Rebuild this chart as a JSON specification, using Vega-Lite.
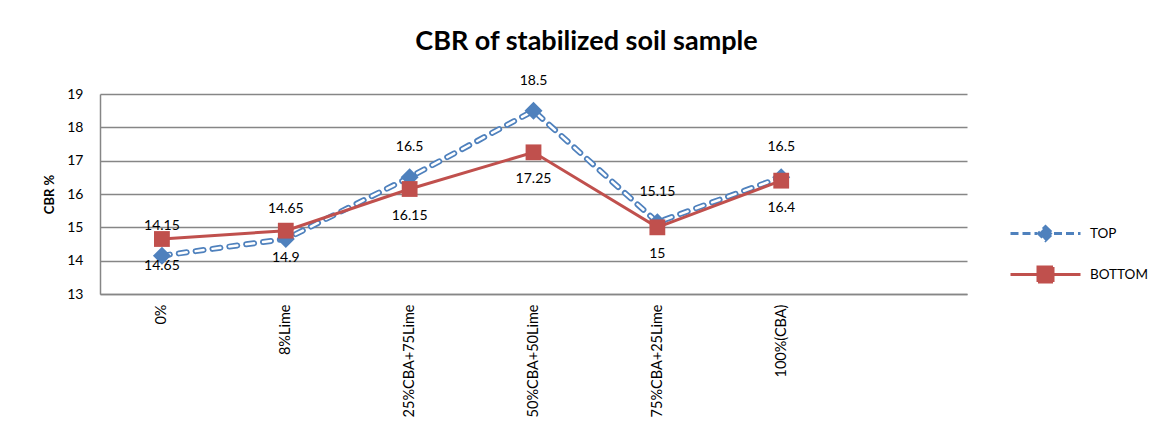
{
  "$schema": "https://vega.github.io/schema/vega-lite/v6.json",
  "width": 867,
  "height": 200,
  "autosize": {"type": "none"},
  "padding": {"left": 100, "top": 94, "right": 195, "bottom": 135},
  "background": "white",
  "config": {
    "font": "Lato",
    "view": {"stroke": null},
    "axis": {"labelFont": "Lato", "titleFont": "Lato", "labelColor": "#000000", "titleColor": "#000000"}
  },
  "title": {
    "text": "CBR of stabilized soil sample",
    "fontSize": 27,
    "fontWeight": "bold",
    "font": "Lato",
    "color": "#000000",
    "anchor": "middle",
    "dx": 53,
    "offset": 18
  },
  "data": {
    "values": [
      {"cat": "0%", "series": "TOP", "value": 14.15},
      {"cat": "8%Lime", "series": "TOP", "value": 14.65},
      {"cat": "25%CBA+75Lime", "series": "TOP", "value": 16.5},
      {"cat": "50%CBA+50Lime", "series": "TOP", "value": 18.5},
      {"cat": "75%CBA+25Lime", "series": "TOP", "value": 15.15},
      {"cat": "100%(CBA)", "series": "TOP", "value": 16.5},
      {"cat": "0%", "series": "BOTTOM", "value": 14.65},
      {"cat": "8%Lime", "series": "BOTTOM", "value": 14.9},
      {"cat": "25%CBA+75Lime", "series": "BOTTOM", "value": 16.15},
      {"cat": "50%CBA+50Lime", "series": "BOTTOM", "value": 17.25},
      {"cat": "75%CBA+25Lime", "series": "BOTTOM", "value": 15},
      {"cat": "100%(CBA)", "series": "BOTTOM", "value": 16.4}
    ]
  },
  "encoding": {
    "x": {
      "field": "cat",
      "type": "ordinal",
      "sort": null,
      "scale": {"type": "point", "padding": 0.5, "domain": ["0%", "8%Lime", "25%CBA+75Lime", "50%CBA+50Lime", "75%CBA+25Lime", "100%(CBA)", " "]},
      "axis": {
        "title": null,
        "labelAngle": -90,
        "labelFontSize": 14.5,
        "labelPadding": 10,
        "ticks": false,
        "domainColor": "#868686",
        "domainWidth": 1.5,
        "grid": false
      }
    },
    "y": {
      "field": "value",
      "type": "quantitative",
      "scale": {"domain": [13, 19], "nice": false, "zero": false},
      "axis": {
        "title": "CBR %",
        "titleFontSize": 13,
        "titleFontWeight": "bold",
        "titlePadding": 10,
        "values": [13, 14, 15, 16, 17, 18, 19],
        "labelFontSize": 14,
        "labelPadding": 17,
        "ticks": false,
        "domainColor": "#868686",
        "domainWidth": 1.5,
        "grid": true,
        "gridColor": "#868686",
        "gridWidth": 1.5
      }
    }
  },
  "layer": [
    {
      "mark": {"type": "point", "filled": true, "opacity": 1, "size": 0},
      "encoding": {
        "fill": {
          "field": "series",
          "type": "nominal",
          "title": null,
          "scale": {"domain": ["TOP", "BOTTOM"], "range": ["#4F81BD", "#C0504D"]},
          "legend": {
            "title": null,
            "orient": "none",
            "legendX": 934,
            "legendY": 128,
            "padding": 0,
            "symbolOffset": 0,
            "symbolSize": 400,
            "symbolStrokeWidth": 3,
            "symbolOpacity": 1,
            "rowPadding": 14,
            "labelOffset": 33,
            "labelFontSize": 13.5,
            "labelFont": "Lato",
            "labelColor": "#000000"
          }
        },
        "stroke": {
          "field": "series",
          "type": "nominal",
          "title": null,
          "scale": {"domain": ["TOP", "BOTTOM"], "range": ["#4F81BD", "#C0504D"]}
        },
        "shape": {
          "field": "series",
          "type": "nominal",
          "title": null,
          "scale": {"domain": ["TOP", "BOTTOM"], "range": ["M-3.5,0H-0.85M0,-0.7L0.7,0L0,0.7L-0.7,0ZM0.85,0H3.5", "M-3.5,0H3.5M-0.75,-0.75H0.75V0.75H-0.75Z"]}
        },
        "strokeDash": {
          "field": "series",
          "type": "nominal",
          "title": null,
          "scale": {"domain": ["TOP", "BOTTOM"], "range": [[8, 4], [1, 0]]}
        }
      }
    },
    {
      "transform": [{"filter": "datum.series === 'TOP'"}],
      "mark": {"type": "line", "stroke": "#4F81BD", "strokeWidth": 6, "strokeDash": [8, 9], "strokeCap": "round"}
    },
    {
      "transform": [{"filter": "datum.series === 'TOP'"}],
      "mark": {"type": "line", "stroke": "#FFFFFF", "strokeWidth": 2.5, "strokeDash": [8, 9], "strokeCap": "round"}
    },
    {
      "transform": [{"filter": "datum.series === 'TOP'"}],
      "mark": {"type": "point", "shape": "diamond", "filled": true, "size": 324, "opacity": 1, "fill": "#4F81BD"}
    },
    {
      "transform": [{"filter": "datum.series === 'BOTTOM'"}],
      "mark": {"type": "line", "stroke": "#C0504D", "strokeWidth": 3}
    },
    {
      "transform": [{"filter": "datum.series === 'BOTTOM'"}],
      "mark": {"type": "point", "shape": "square", "filled": true, "size": 250, "opacity": 1, "fill": "#C0504D"}
    },
    {
      "transform": [{"filter": "datum.series === 'TOP'"}],
      "mark": {"type": "text", "dy": -30, "fontSize": 14, "font": "Lato", "color": "#000000"},
      "encoding": {"text": {"field": "value", "type": "quantitative", "format": ""}}
    },
    {
      "transform": [{"filter": "datum.series === 'BOTTOM'"}],
      "mark": {"type": "text", "dy": 27, "fontSize": 14, "font": "Lato", "color": "#000000"},
      "encoding": {"text": {"field": "value", "type": "quantitative", "format": ""}}
    }
  ]
}
